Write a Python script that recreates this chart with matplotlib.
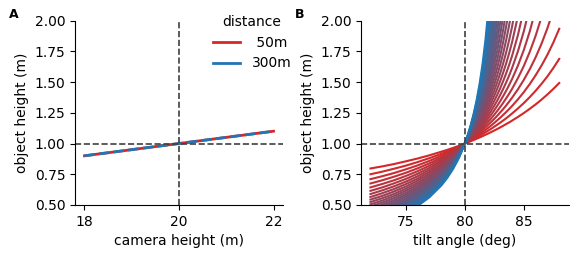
import matplotlib
matplotlib.use("Agg")
import matplotlib.pyplot as plt
from matplotlib.lines import Line2D
from matplotlib.colors import LinearSegmentedColormap
import numpy as np

# panel A: object height vs camera height (same line for every distance)
camera_height = [18, 22]
object_height_a = [0.9, 1.1]

# panel B: object height (mm) vs tilt angle, one list per distance
tilt = [72, 73, 74, 75, 76, 77, 78, 78.5, 79, 79.5, 80,
        80.25, 80.5, 80.75, 81, 81.25, 81.5, 81.75, 82, 82.25, 82.5, 82.75,
        83, 83.25, 83.5, 83.75, 84, 84.5, 85, 85.5, 86, 86.5, 87, 87.5, 88]
distances = list(range(50, 301, 10))

h050 = [797, 814, 833, 855, 878, 904, 933, 948, 964, 981, 1000, 1009, 1019, 1028, 1039, 1049, 1060, 1071,
        1082, 1094, 1106, 1118, 1131, 1144, 1158, 1171, 1186, 1216, 1248, 1282, 1318, 1357, 1399, 1444, 1492]
h060 = [750, 771, 795, 820, 849, 881, 916, 935, 955, 977, 1000, 1011, 1024, 1036, 1049, 1063, 1077, 1091,
        1106, 1121, 1137, 1153, 1170, 1187, 1205, 1224, 1244, 1285, 1329, 1377, 1429, 1485, 1546, 1614, 1688]
h070 = [710, 734, 760, 790, 822, 859, 900, 923, 947, 972, 1000, 1014, 1029, 1044, 1060, 1076, 1093, 1111,
        1129, 1148, 1168, 1189, 1210, 1233, 1256, 1280, 1305, 1359, 1418, 1483, 1555, 1634, 1722, 1821, 1933]
h080 = [675, 701, 730, 762, 798, 839, 885, 911, 938, 968, 1000, 1016, 1034, 1052, 1070, 1090, 1110, 1132,
        1154, 1177, 1201, 1226, 1253, 1280, 1309, 1340, 1372, 1441, 1518, 1604, 1701, 1812, 1938, 2083]
h090 = [643, 671, 701, 736, 775, 820, 871, 900, 930, 964, 1000, 1019, 1039, 1059, 1081, 1104, 1128, 1153,
        1179, 1206, 1235, 1265, 1297, 1331, 1367, 1404, 1444, 1532, 1631, 1745, 1876, 2029]
h100 = [615, 643, 676, 712, 754, 802, 858, 889, 923, 959, 1000, 1021, 1043, 1067, 1092, 1118, 1145, 1174,
        1205, 1237, 1271, 1307, 1345, 1386, 1429, 1475, 1524, 1634, 1761, 1911, 2089]
h110 = [589, 619, 652, 690, 734, 785, 845, 878, 915, 955, 1000, 1023, 1048, 1075, 1103, 1132, 1163, 1196,
        1231, 1269, 1308, 1350, 1396, 1444, 1496, 1552, 1613, 1750, 1913, 2110]
h120 = [565, 596, 630, 670, 715, 769, 832, 868, 907, 951, 1000, 1026, 1053, 1083, 1114, 1147, 1182, 1219,
        1259, 1302, 1348, 1397, 1450, 1508, 1570, 1638, 1712, 1882, 2092]
h130 = [544, 574, 610, 650, 698, 753, 820, 858, 900, 947, 1000, 1028, 1058, 1091, 1125, 1162, 1201, 1243,
        1288, 1337, 1390, 1447, 1509, 1577, 1651, 1733, 1823, 2036]
h140 = [524, 555, 590, 632, 681, 738, 808, 848, 893, 943, 1000, 1030, 1063, 1099, 1136, 1177, 1220, 1267,
        1318, 1374, 1434, 1500, 1572, 1652, 1740, 1839, 1949, 2216]
h150 = [505, 536, 573, 615, 665, 724, 796, 839, 886, 939, 1000, 1033, 1068, 1107, 1148, 1192, 1241, 1293,
        1350, 1412, 1481, 1557, 1641, 1734, 1840, 1959, 2094]
h160 = [488, 519, 556, 598, 649, 710, 785, 829, 879, 935, 1000, 1035, 1074, 1115, 1160, 1208, 1261, 1319,
        1383, 1453, 1531, 1618, 1715, 1826, 1951, 2095]
h170 = [472, 503, 540, 583, 635, 697, 775, 820, 872, 931, 1000, 1038, 1079, 1123, 1172, 1225, 1283, 1347,
        1418, 1497, 1585, 1684, 1797, 1926, 2076]
h180 = [457, 488, 525, 569, 621, 685, 764, 812, 866, 928, 1000, 1040, 1084, 1132, 1184, 1242, 1305, 1376,
        1454, 1543, 1642, 1756, 1887, 2039]
h190 = [442, 474, 511, 555, 608, 672, 754, 803, 859, 924, 1000, 1042, 1089, 1140, 1197, 1259, 1328, 1405,
        1493, 1591, 1704, 1834, 1986, 2166]
h200 = [429, 461, 497, 541, 595, 661, 744, 795, 853, 920, 1000, 1045, 1094, 1149, 1209, 1277, 1352, 1437,
        1533, 1643, 1771, 1919, 2096]
h210 = [417, 448, 485, 529, 583, 649, 734, 786, 846, 916, 1000, 1047, 1100, 1158, 1222, 1295, 1376, 1469,
        1575, 1698, 1842, 2013]
h220 = [405, 436, 473, 517, 571, 638, 725, 778, 840, 913, 1000, 1050, 1105, 1167, 1236, 1313, 1402, 1503,
        1620, 1757, 1920, 2116]
h230 = [394, 425, 461, 505, 560, 628, 716, 770, 834, 909, 1000, 1052, 1110, 1176, 1249, 1333, 1428, 1539,
        1668, 1821, 2005]
h240 = [383, 414, 450, 494, 549, 618, 707, 763, 828, 905, 1000, 1054, 1116, 1185, 1263, 1353, 1456, 1576,
        1718, 1889, 2097]
h250 = [373, 404, 440, 484, 539, 608, 698, 755, 822, 902, 1000, 1057, 1121, 1194, 1277, 1373, 1484, 1615,
        1772, 1962, 2198]
h260 = [364, 394, 430, 474, 529, 598, 690, 747, 816, 898, 1000, 1059, 1127, 1204, 1292, 1394, 1514, 1656,
        1828, 2041]
h270 = [355, 385, 421, 464, 519, 589, 682, 740, 810, 895, 1000, 1062, 1132, 1213, 1307, 1416, 1545, 1699,
        1889, 2126]
h280 = [346, 376, 412, 455, 510, 580, 674, 733, 804, 891, 1000, 1064, 1138, 1223, 1322, 1438, 1577, 1745,
        1954, 2220]
h290 = [338, 368, 403, 446, 501, 571, 666, 726, 799, 888, 1000, 1067, 1144, 1233, 1337, 1461, 1610, 1793,
        2023]
h300 = [331, 359, 395, 438, 492, 563, 658, 719, 793, 884, 1000, 1069, 1150, 1243, 1353, 1485, 1645, 1844,
        2097]

heights_b = [h050, h060, h070, h080, h090, h100, h110, h120, h130, h140, h150, h160, h170,
             h180, h190, h200, h210, h220, h230, h240, h250, h260, h270, h280, h290, h300]

yticks = [0.5, 0.75, 1.0, 1.25, 1.5, 1.75, 2.0]
legend_labels = [" 50m", "300m"]

red = "#d62728"
blue = "#1f77b4"
cmap = LinearSegmentedColormap.from_list("rb", [red, blue])

fig = plt.figure(figsize=(5.87, 2.64), dpi=100)
ax1 = fig.add_axes([0.1278, 0.2235, 0.3543, 0.6988])
ax2 = fig.add_axes([0.615, 0.2235, 0.3538, 0.6988])

# A
ax1.plot(camera_height, object_height_a, color=red, lw=2)
ax1.plot(camera_height, object_height_a, color=blue, lw=2, ls="--")
ax1.axhline(1, color="0.25", lw=1.2, ls="--")
ax1.axvline(20, color="0.25", lw=1.2, ls="--")
ax1.set_xticks([18, 20, 22])
ax1.set_xlabel("camera height (m)")
handles = [Line2D([], [], color=red, lw=2), Line2D([], [], color=blue, lw=2)]
ax1.legend(handles, legend_labels, title="distance", frameon=False,
           loc="upper right", bbox_to_anchor=(1.1, 1.1))

# B
for i, vals in enumerate(heights_b):
    ax2.plot(tilt[:len(vals)], np.array(vals) / 1000,
             color=cmap(i / (len(heights_b) - 1)), lw=1.5)
ax2.axhline(1, color="0.25", lw=1.2, ls="--")
ax2.axvline(80, color="0.25", lw=1.2, ls="--")
ax2.set_xticks([75, 80, 85])
ax2.set_xlabel("tilt angle (deg)")

for ax in (ax1, ax2):
    ax.set_ylim(0.5, 2.0)
    ax.set_yticks(yticks)
    ax.set_ylabel("object height (m)")
    ax.spines["top"].set_visible(False)
    ax.spines["right"].set_visible(False)

fig.text(0.015, 0.97, "A", fontsize=9, fontweight="bold", va="top")
fig.text(0.503, 0.97, "B", fontsize=9, fontweight="bold", va="top")
fig.savefig("out.png")
